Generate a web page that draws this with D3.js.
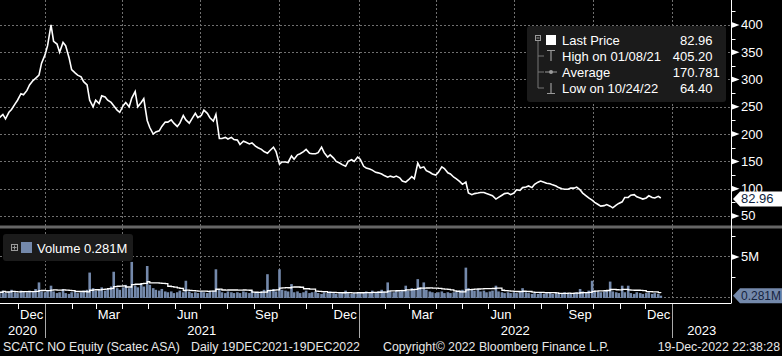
<!DOCTYPE html>
<html><head><meta charset="utf-8">
<script src="https://cdn.jsdelivr.net/npm/d3@7"></script>
<style>
body{margin:0;background:#000;overflow:hidden}
svg{display:block}
text{font-family:"Liberation Sans",Arial,sans-serif}
</style>
</head><body>
<svg id="c" width="782" height="356"></svg>
<script>
// ---------------- DATA ----------------
const seriesStart = "2020-11-09";   // first sample
const sampleStepDays = 3.5;          // samples ~twice a week
const prices = [
230,236,228,240,245,255,262,274,272,280,
290,298,302,308,330,345,362,400,370,365,
350,368,362,340,318,312,308,305,296,290,
262,250,262,256,270,268,262,258,252,244,
240,252,258,250,266,278,250,258,265,225,
212,200,204,206,214,222,222,226,220,214,
220,234,226,220,228,238,230,234,244,238,
230,224,236,192,192,194,191,194,190,189,
181,187,185,182,184,178,175,172,168,165,
170,176,168,145,149,149,148,160,154,162,
164,168,172,165,164,164,166,176,166,158,
162,156,150,147,144,141,150,153,150,158,
154,141,138,136,134,130,129,127,124,121,
123,121,123,120,114,112,116,122,118,147,
138,140,133,130,127,125,130,140,137,129,
127,121,118,113,108,112,92,89,91,92,
93,93,91,89,87,81,84,88,91,92,
89,92,98,97,102,103,105,102,108,112,
114,112,110,109,107,105,102,100,99,99,
101,101,103,98,92,87,83,79,75,71,
68,69,71,68,65,70,73,76,84,84,
88,89,85,83,81,83,87,84,83,86,82.96
];
const volumes = [ // millions
0.7,0.9,0.6,0.8,1.0,0.7,0.6,0.9,0.8,0.7,
0.9,0.8,1.1,1.9,0.8,0.7,0.9,1.5,0.8,0.6,
0.7,1.1,0.6,0.5,0.7,0.8,0.6,0.7,0.9,1.0,
3.1,1.2,0.9,1.0,1.3,0.9,1.1,1.4,3.2,1.2,
1.0,1.3,1.6,1.2,4.4,1.5,1.3,1.8,1.4,3.9,
1.6,1.2,1.0,0.9,1.1,0.8,0.7,0.8,0.6,0.7,
0.9,0.7,2.1,0.8,0.6,0.7,0.6,0.8,0.7,0.6,
0.8,0.9,3.5,1.0,0.7,0.6,0.8,0.7,0.6,0.7,
0.6,0.8,0.7,0.6,0.9,0.7,0.6,0.8,1.0,2.9,
0.9,1.1,0.8,3.5,1.0,0.9,0.8,1.7,0.7,0.8,
0.6,0.7,0.9,0.6,0.7,0.8,0.6,0.5,0.7,0.6,
0.8,0.6,0.5,0.7,0.6,0.9,0.6,0.5,0.6,0.7,
0.6,0.7,0.8,0.6,0.9,0.7,0.8,1.0,0.8,1.9,
0.8,0.7,0.9,0.8,1.0,1.5,0.9,1.2,1.1,2.3,
1.3,1.9,1.0,0.8,0.7,0.6,0.7,0.8,0.6,0.7,
0.6,0.7,0.8,0.9,1.0,3.7,1.2,1.0,0.9,1.1,
0.8,0.9,0.7,0.8,0.9,1.5,0.8,0.7,0.6,0.7,
0.6,0.7,0.6,0.8,1.2,0.7,0.6,0.5,0.6,0.5,
0.6,0.5,0.6,0.7,0.5,0.6,0.5,0.6,0.7,0.6,
0.5,0.6,0.7,1.1,0.8,0.7,0.9,2.1,0.9,0.8,
0.7,0.8,0.9,2.0,0.8,0.7,0.6,1.5,0.7,1.5,
0.6,0.5,0.7,0.6,0.5,0.6,0.7,0.5,0.6,0.5,0.281
];
const priceTicks = [50,100,150,200,250,300,350,400];
const priceMinorTicks = [75,125,175,225,275,325,375,425];
const volTicks = [5];
const volMinorTicks = [2.5,7.5];
const labelMonths = ["Dec","Mar","Jun","Sep"];
const legendLabels = ["Last Price","High on 01/08/21","Average","Low on 10/24/22"];
const legendValues = ["82.96","405.20","170.781","64.40"];
const lastPrice = "82.96";
const lastVolume = "0.281M";
const volumeLegend = "Volume 0.281M";
const footer = ["SCATC NO Equity (Scatec ASA)","Daily 19DEC2021-19DEC2022","Copyright\u00A9 2022 Bloomberg Finance L.P.","19-Dec-2022 22:38:28"];

// ---------------- BUILD ----------------
const parse = d3.timeParse("%Y-%m-%d");
const t0 = parse(seriesStart);
const data = prices.map((p,i)=>({date:d3.timeDay.offset(t0, Math.round(i*sampleStepDays)), p, v:volumes[i]}));
// trailing moving average of volume
const maN = 12;
data.forEach((d,i)=>{ const s=data.slice(Math.max(0,i-maN+1),i+1); d.ma=d3.mean(s,e=>e.v); });

const svg = d3.select("#c");
const W=782, axisX=731.5;
const x = d3.scaleTime().domain([new Date(2021,0,1), new Date(2023,0,1)]).range([45,672]);
const y = d3.scaleLinear().domain([33.5,445.6]).range([225,0]);
const yv = d3.scaleLinear().domain([0,8.41]).range([298,229]);
const grid = "#707070";

svg.append("rect").attr("width",W).attr("height",356).attr("fill","#000");

// vertical gridlines at quarter starts
const quarters = d3.timeMonth.every(3).range(new Date(2020,9,1), new Date(2023,1,1)).filter(d=>x(d)>0 && x(d)<axisX);
svg.append("g").selectAll("line").data(quarters).join("line")
  .attr("x1",d=>Math.round(x(d))+0.5).attr("x2",d=>Math.round(x(d))+0.5)
  .attr("y1",0).attr("y2",298).attr("stroke",grid).attr("stroke-dasharray","2,2");
// horizontal gridlines price
svg.append("g").selectAll("line").data(priceTicks).join("line")
  .attr("x1",0).attr("x2",axisX).attr("y1",d=>Math.round(y(d))+0.5).attr("y2",d=>Math.round(y(d))+0.5)
  .attr("stroke",grid).attr("stroke-dasharray","2,2");
// horizontal gridlines volume
svg.append("g").selectAll("line").data([0].concat(volTicks)).join("line")
  .attr("x1",0).attr("x2",axisX).attr("y1",d=>Math.round(yv(d))-0.5).attr("y2",d=>Math.round(yv(d))-0.5)
  .attr("stroke",grid).attr("stroke-dasharray","2,2");

// separator band
svg.append("rect").attr("x",0).attr("y",225.5).attr("width",W).attr("height",3).attr("fill","#666");

// volume bars
const bw = 2.6;
svg.append("g").selectAll("rect").data(data).join("rect")
  .attr("x",d=>x(d.date)-bw/2).attr("width",bw)
  .attr("y",d=>yv(d.v)).attr("height",d=>yv(0)-yv(d.v))
  .attr("fill","#7489ab");
// volume MA
svg.append("path").datum(data).attr("fill","none").attr("stroke","#fff").attr("stroke-width",1.3)
  .attr("d",d3.line().x(d=>x(d.date)).y(d=>yv(d.ma)).curve(d3.curveStepAfter));

// price line
svg.append("path").datum(data).attr("fill","none").attr("stroke","#fff").attr("stroke-width",1.6)
  .attr("stroke-linejoin","miter")
  .attr("d",d3.line().x(d=>x(d.date)).y(d=>y(d.p)));

// right axis
svg.append("line").attr("x1",axisX).attr("x2",axisX).attr("y1",0).attr("y2",303).attr("stroke","#fff");
function rightTicks(scale, major, minor, fmt){
  const g = svg.append("g");
  g.selectAll("line.mn").data(minor).join("line").attr("class","mn")
    .attr("x1",axisX).attr("x2",axisX+4).attr("y1",d=>Math.round(scale(d))+0.5).attr("y2",d=>Math.round(scale(d))+0.5).attr("stroke","#fff");
  g.selectAll("path").data(major).join("path")
    .attr("d",d=>{const yy=scale(d);return `M${axisX},${yy-3}L${axisX+8},${yy}L${axisX},${yy+3}Z`;}).attr("fill","#fff");
  g.selectAll("text").data(major).join("text")
    .attr("x",741).attr("y",d=>scale(d)+4.5).attr("fill","#fff").attr("font-size",13).text(fmt);
}
rightTicks(y, priceTicks, priceMinorTicks, d=>d);
rightTicks(yv, volTicks, volMinorTicks, d=>d+"M");

// bottom axis
svg.append("line").attr("x1",0).attr("x2",axisX).attr("y1",303.5).attr("y2",303.5).attr("stroke","#fff");
const months = d3.timeMonth.range(new Date(2020,10,1), new Date(2023,1,1)).filter(d=>x(d)>0 && x(d)<axisX);
svg.append("g").selectAll("line").data(months).join("line")
  .attr("x1",d=>Math.round(x(d))+0.5).attr("x2",d=>Math.round(x(d))+0.5)
  .attr("y1",304).attr("y2",d=>d.getMonth()===0?338:309).attr("stroke",d=>d.getMonth()===0?"#aaa":"#fff");
const fmtM = d3.timeFormat("%b");
const labMonths = d3.timeMonth.range(new Date(2020,10,1), new Date(2023,0,1)).filter(d=>labelMonths.includes(fmtM(d)));
svg.append("g").selectAll("text").data(labMonths).join("text")
  .attr("x",d=>(x(d)+x(d3.timeMonth.offset(d,1)))/2).attr("y",319).attr("text-anchor","middle")
  .attr("fill","#fff").attr("font-size",13).text(fmtM);
const years = [2020,2021,2022,2023];
svg.append("g").selectAll("text").data(years).join("text")
  .attr("x",yr=>{const a=Math.max(0,x(new Date(yr,0,1))), b=Math.min(axisX,x(new Date(yr+1,0,1)));return (a+b)/2;})
  .attr("y",335).attr("text-anchor","middle").attr("fill","#fff").attr("font-size",13).text(d=>d);

// last value markers
function marker(yy, fill, txt, tcol, fs){
  svg.append("path").attr("d",`M733,${yy}L740,${yy-7.5}L782,${yy-7.5}L782,${yy+7.5}L740,${yy+7.5}Z`).attr("fill",fill);
  svg.append("text").attr("x",741).attr("y",yy+4.5).attr("fill",tcol).attr("font-size",fs).text(txt);
}
marker(y(+lastPrice)+1, "#fff", lastPrice, "#0f1f40", 13);
marker(yv(0.281), "#7489ab", lastVolume, "#16243f", 12);

// price legend
const lg = svg.append("g");
lg.append("rect").attr("x",527).attr("y",26).attr("width",199).attr("height",76).attr("rx",3).attr("fill","#1b1b1b");
const rowY = [40.5,56,72,88];
const sym = "#9a9a9a";
lg.append("rect").attr("x",535.5).attr("y",35.5).attr("width",5).attr("height",5).attr("fill","none").attr("stroke",sym);
lg.append("line").attr("x1",536.5).attr("x2",539.5).attr("y1",38).attr("y2",38).attr("stroke",sym);
lg.append("path").attr("d","M538,41V88H544M538,56H544M538,72H544").attr("fill","none").attr("stroke","#777");
lg.append("rect").attr("x",546).attr("y",35).attr("width",10).attr("height",10).attr("fill","#fff");
lg.append("path").attr("d","M547,50.5H555M551,50.5V61").attr("stroke",sym).attr("stroke-width",1.2);
lg.append("path").attr("d","M545,72H557").attr("stroke",sym);
lg.append("circle").attr("cx",551).attr("cy",72).attr("r",2).attr("fill",sym);
lg.append("path").attr("d","M551,83V93.5M547,93.5H555").attr("stroke",sym).attr("stroke-width",1.2);
lg.selectAll("text.l").data(legendLabels).join("text").attr("class","l")
  .attr("x",562).attr("y",(d,i)=>rowY[i]+4.5).attr("fill","#fff").attr("font-size",13).text(d=>d);
const decX = 694.5;
lg.selectAll("text.vi").data(legendValues).join("text").attr("class","vi")
  .attr("x",decX).attr("y",(d,i)=>rowY[i]+4.5).attr("text-anchor","end").attr("fill","#fff").attr("font-size",13).text(d=>d.split(".")[0]);
lg.selectAll("text.vf").data(legendValues).join("text").attr("class","vf")
  .attr("x",decX).attr("y",(d,i)=>rowY[i]+4.5).attr("fill","#fff").attr("font-size",13).text(d=>"."+d.split(".")[1]);

// volume legend
const vl = svg.append("g");
vl.append("rect").attr("x",3).attr("y",234).attr("width",130).attr("height",27).attr("rx",3).attr("fill","#1b1b1b");
vl.append("rect").attr("x",11.5).attr("y",244.5).attr("width",6).attr("height",6).attr("fill","none").attr("stroke",sym);
vl.append("path").attr("d","M12.5,247.5H16.5M14.5,245.5V249.5").attr("stroke",sym);
vl.append("rect").attr("x",21).attr("y",242).attr("width",11).attr("height",11).attr("fill","#7489ab");
vl.append("text").attr("x",37).attr("y",252.5).attr("fill","#fff").attr("font-size",13).text(volumeLegend);

// footer
const fx = [3,191,383,780];
const fa = ["start","start","start","end"];
svg.append("g").selectAll("text").data(footer).join("text")
  .attr("x",(d,i)=>fx[i]).attr("text-anchor",(d,i)=>fa[i]).attr("y",351).attr("fill","#e8e8e8").attr("font-size",12.3).text(d=>d);
</script>
</body></html>
